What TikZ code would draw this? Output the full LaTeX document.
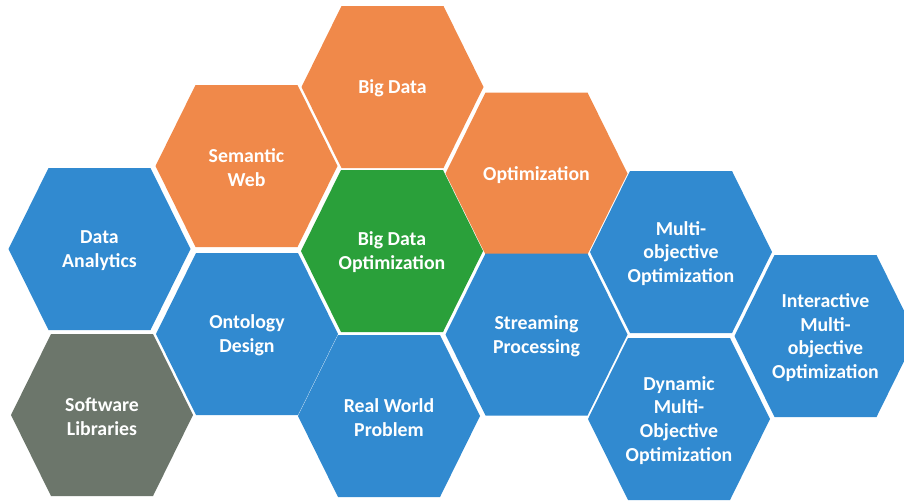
\documentclass[tikz,border=0pt]{standalone}
\usepackage{fontspec}
\setmainfont{Carlito}
\definecolor{hexorange}{HTML}{F0894A}
\definecolor{hexblue}{HTML}{318AD0}
\definecolor{hexgreen}{HTML}{2AA03A}
\definecolor{hexgray}{HTML}{6C766B}
\tikzset{
  hextext/.style={text=white, font=\fontsize{19.8}{23.8}\selectfont\bfseries, align=center, inner sep=0pt, yshift=-1.5pt}
}
\newcommand\hexcell[5]{%
  \fill[#4] (#2-91,#3) -- (#2-51,#3-81) -- (#2+51,#3-81) -- (#2+91,#3) -- (#2+51,#3+81) -- (#2-51,#3+81) -- cycle;
  \node[hextext] (#1) at (#2,#3) {#5};
}
\begin{document}
\begin{tikzpicture}[x=1pt,y=-1pt]
\useasboundingbox (0,0) rectangle (904,501);
\fill[white] (0,0) rectangle (904,501);
\hexcell{da}{99.5}{249}{hexblue}{Data\\Analytics}
\hexcell{sl}{102}{415}{hexgray}{Software\\Libraries}
\hexcell{sw}{246.5}{166}{hexorange}{Semantic\\Web}
\hexcell{od}{247}{334}{hexblue}{Ontology\\Design}
\hexcell{bd}{392.5}{87}{hexorange}{Big Data}
\hexcell{bdo}{392}{251}{hexgreen}{Big Data\\Optimization}
\hexcell{rw}{389}{416}{hexblue}{Real World\\Problem}
\hexcell{op}{536.5}{173.5}{hexorange}{Optimization}
\hexcell{sp}{536.5}{334.5}{hexblue}{Streaming\\Processing}
\hexcell{mo}{681}{252}{hexblue}{Multi-\\objective\\Optimization}
\hexcell{dm}{679}{419}{hexblue}{Dynamic\\Multi-\\Objective\\Optimization}
\hexcell{im}{825.5}{336}{hexblue}{Interactive\\Multi-\\objective\\Optimization}
\end{tikzpicture}
\end{document}
